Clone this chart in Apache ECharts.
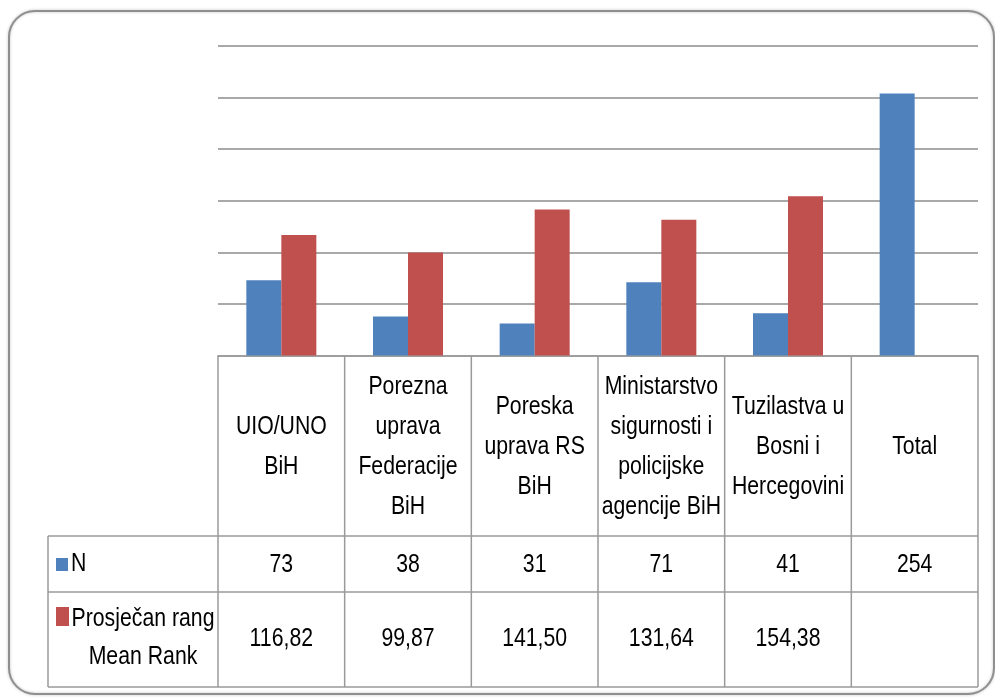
<!DOCTYPE html>
<html>
<head>
<meta charset="utf-8">
<script src="https://cdn.jsdelivr.net/npm/echarts@6/dist/echarts.min.js"></script>
<style>
html, body { margin: 0; padding: 0; background: #fff; }
#main { width: 995px; height: 699px; }
</style>
</head>
<body>
<div id="main"></div>
<script>
// podaci
var categories = [
	'UIO/UNO\nBiH',
	'Porezna\nuprava\nFederacije\nBiH',
	'Poreska\nuprava RS\nBiH',
	'Ministarstvo\nsigurnosti i\npolicijske\nagencije BiH',
	'Tuzilastva u\nBosni i\nHercegovini',
	'Total'
];
var nValues = [73, 38, 31, 71, 41, 254];
var meanRank = [116.82, 99.87, 141.50, 131.64, 154.38, null];
var seriesNames = ['N', 'Prosječan rang\nMean Rank'];
var colors = ['#4f81bd', '#c0504d'];

var FONT = "'Liberation Sans', Arial, sans-serif";
var SX = 0.85; // uski font (kao Calibri)
var LINE = '#9a9a9a';

function fmt(v) {
	return v == null ? '' : v.toFixed(2).replace('.', ',');
}

var myChart = echarts.init(document.getElementById('main'), null, {renderer: 'canvas'});

var option = {
	animation: false,
	backgroundColor: '#fff',
	grid: {
		left: 218,
		right: 17,
		top: 46,
		bottom: 343.4
	},
	xAxis: {
		type: 'category',
		data: categories,
		axisLine: {lineStyle: {color: LINE, width: 1.5}},
		axisTick: {show: false},
		axisLabel: {show: false}
	},
	yAxis: {
		type: 'value',
		min: 0,
		max: 300,
		interval: 50,
		axisLine: {show: false},
		axisTick: {show: false},
		axisLabel: {show: false},
		splitLine: {lineStyle: {color: '#8c8c8c', width: 1.5}}
	},
	series: [{
		name: seriesNames[0],
		type: 'bar',
		barWidth: 35,
		barGap: '0%',
		itemStyle: {color: colors[0]},
		data: nValues
	}, {
		name: seriesNames[1],
		type: 'bar',
		barWidth: 35,
		barGap: '0%',
		itemStyle: {color: colors[1]},
		data: meanRank
	}]
};
myChart.setOption(option);

// tablica s podacima ispod grafa
function buildTable() {
	var c0 = myChart.convertToPixel({xAxisIndex: 0}, 0);
	var c1 = myChart.convertToPixel({xAxisIndex: 0}, 1);
	var w = c1 - c0;
	var base = myChart.convertToPixel({yAxisIndex: 0}, 0);
	var left = 48, headBottom = 536, rowBottom = 592, tableBottom = 687;
	var right = c0 - w / 2 + w * categories.length;
	var els = [];
	var line = function (x1, y1, x2, y2) {
		els.push({
			type: 'line',
			shape: {x1: x1, y1: y1, x2: x2, y2: y2},
			style: {stroke: LINE, lineWidth: 1.5}
		});
	};
	var text = function (str, x, y, align, lh) {
		els.push({
			type: 'text', x: x, y: y, scaleX: SX,
			style: {
				text: str, font: '25px ' + FONT, fill: '#000',
				align: align || 'center', verticalAlign: 'middle', lineHeight: lh || 40
			}
		});
	};
	for (var i = 0; i <= categories.length; i++) {
		var x = c0 - w / 2 + w * i;
		line(x, base, x, tableBottom);
	}
	line(left, headBottom, left, tableBottom);
	line(left, headBottom, right, headBottom);
	line(left, rowBottom, right, rowBottom);
	line(left, tableBottom, right, tableBottom);

	for (var j = 0; j < categories.length; j++) {
		var cx = myChart.convertToPixel({xAxisIndex: 0}, j);
		text(categories[j], cx, (base + headBottom) / 2 + 1);
		text(String(nValues[j]), cx, (headBottom + rowBottom) / 2 + 1);
		text(fmt(meanRank[j]), cx, (rowBottom + tableBottom) / 2);
	}

	// legenda u tablici
	els.push({type: 'rect', shape: {x: 56, y: 558, width: 12, height: 13}, style: {fill: colors[0]}});
	text(seriesNames[0], 71, 564, 'left');
	els.push({type: 'rect', shape: {x: 56, y: 607, width: 13, height: 19}, style: {fill: colors[1]}});
	text(seriesNames[1], 143, 638, 'center', 38);

	// okvir
	els.push({
		type: 'rect',
		z: -1,
		shape: {x: 9, y: 11, width: 985, height: 683, r: 26},
		style: {fill: 'none', stroke: '#8f8f8f', lineWidth: 2,
			shadowBlur: 3, shadowColor: 'rgba(0,0,0,0.25)'}
	});
	myChart.setOption({graphic: {elements: els}});
}
buildTable();
</script>
</body>
</html>
